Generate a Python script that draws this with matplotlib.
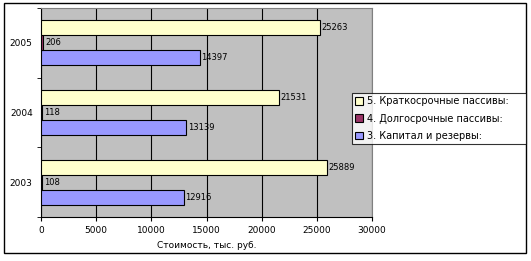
import numpy as np
import matplotlib.pyplot as plt
from matplotlib.patches import Rectangle

# данные
years = ["2003", "2004", "2005"]
kapital = [12916, 13139, 14397]
dolgo = [108, 118, 206]
kratko = [25889, 21531, 25263]

series = [
    ("3. Капитал и резервы:", kapital, "#9999FF"),
    ("4. Долгосрочные пассивы:", dolgo, "#993366"),
    ("5. Краткосрочные пассивы:", kratko, "#FFFFCC"),
]

plt.rcParams["font.family"] = ["DejaVu Sans"]
fig = plt.figure(figsize=(5.31, 2.61), dpi=100)
ax = fig.add_axes([41 / 531, 1 - 217 / 261, 331 / 531, 209 / 261])
ax.set_facecolor("#C0C0C0")

y = np.arange(len(years))
h = 0.215
handles = []
for i, (name, vals, col) in enumerate(series):
    pos = y + (i - 1) * h
    b = ax.barh(pos, vals, height=h, color=col, edgecolor="black", linewidth=0.8,
                label=name, zorder=3)
    handles.append(b)
    for p, v in zip(pos, vals):
        ax.text(v + 150, p, str(v), va="center", ha="left", fontsize=6, zorder=4)

ax.set_xlim(0, 30000)
ax.set_ylim(-0.5, 2.5)
ax.set_xticks(np.arange(0, 30001, 5000))
ax.tick_params(axis="x", labelsize=6.5, length=3, direction="out")
ax.set_yticks(y)
ax.set_yticklabels(years, fontsize=6.5)
ax.tick_params(axis="y", length=0, pad=6)
ax.set_yticks([-0.5, 0.5, 1.5, 2.5], minor=True)
ax.tick_params(axis="y", which="minor", length=3, direction="out")
ax.grid(axis="x", color="black", linewidth=0.8, zorder=1)
ax.set_xlabel("Стоимость, тыс. руб.", fontsize=6.5, labelpad=4)

for s in ["top", "right"]:
    ax.spines[s].set_color("#808080")
for s in ["left", "bottom"]:
    ax.spines[s].set_color("black")

leg = fig.legend(handles[::-1], [s[0] for s in series][::-1],
                 loc="center", mode="expand",
                 bbox_to_anchor=(352 / 531, 1 - 143 / 261, 174 / 531, 49 / 261),
                 fontsize=7, frameon=True, fancybox=False, handlelength=0.8,
                 handleheight=0.8, handletextpad=0.4, borderpad=0.35,
                 labelspacing=0.75, borderaxespad=0)
leg.get_frame().set_edgecolor("black")
leg.get_frame().set_linewidth(0.8)

fig.patches.append(Rectangle((4 / 531, 1 - 253 / 261), 522 / 531, 250 / 261,
                             transform=fig.transFigure, fill=False,
                             edgecolor="black", linewidth=1))

fig.savefig("out.png", dpi=100)
